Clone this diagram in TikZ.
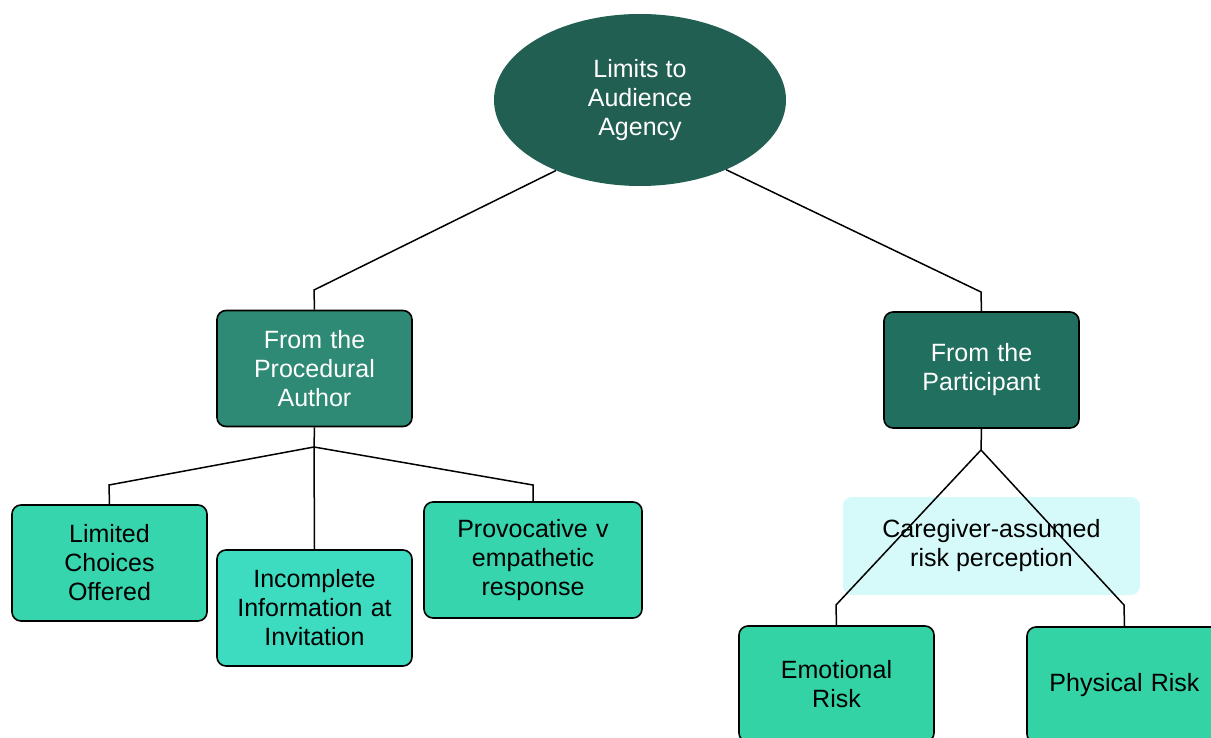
\documentclass[tikz,border=0pt]{standalone}
\usepackage{fontspec}
\setmainfont{Liberation Sans}
\usetikzlibrary{shapes.geometric}
\definecolor{rootgreen}{HTML}{225F53}
\definecolor{authgreen}{HTML}{2E8A74}
\definecolor{partgreen}{HTML}{21705F}
\definecolor{leafgreen}{HTML}{36D5AE}
\definecolor{leafaqua}{HTML}{3DDCC0}
\definecolor{riskgreen}{HTML}{33D3A6}
\definecolor{notecyan}{HTML}{D6F9F9}
\begin{document}
\begin{tikzpicture}[x=1pt,y=-1pt,
  every node/.style={font=\fontsize{25}{29}\selectfont, align=center, inner sep=0pt},
  box/.style={draw=black, line width=1.6pt, rounded corners=9pt,
    minimum width=195pt, minimum height=116pt, text width=180pt},
  darkbox/.style={box, text=white},
  lightbox/.style={box, text=black},
  link/.style={draw=black, line width=1.5pt}
]
\useasboundingbox (0,0) rectangle (1211,738);

% root
\node[ellipse, fill=rootgreen, text=white, minimum width=292pt, minimum height=172pt] (root) at (640,100) {Limits to\\Audience\\Agency};

% second level
\node[darkbox, fill=authgreen] (auth) at (314.5,368.5) {From the\\Procedural\\Author};
\node[darkbox, fill=partgreen] (part) at (981.5,370) {From the\\Participant};

% leaves under the procedural author
\node[lightbox, fill=leafgreen] (lim) at (109.5,563) {Limited\\Choices\\Offered};
\node[lightbox, fill=leafaqua] (inc) at (314.5,608) {Incomplete\\Information at\\Invitation};
\node[lightbox, fill=leafgreen, minimum width=218pt] (prov) at (533,560) {Provocative v\\empathetic\\response};

% note behind the risk branches
\node[fill=notecyan, rounded corners=9pt, minimum width=297pt, minimum height=98pt] (note) at (991.5,546) {};

% leaves under the participant
\node[lightbox, fill=riskgreen] (emo) at (836.5,684) {Emotional\\Risk};
\node[lightbox, fill=riskgreen] (phys) at (1124.5,685) {Physical Risk};

% bend points
\coordinate (bl) at (314,290);
\coordinate (br) at (981,292);
\coordinate (ja) at (314,447);
\coordinate (la) at (109,485);
\coordinate (ra) at (533,485);
\coordinate (jp) at (981,450);
\coordinate (le) at (836,605);
\coordinate (rp) at (1124,605);

% connectors
\draw[link] (root.220) -- (bl) -- (auth.north);
\draw[link] (root.321) -- (br) -- (part.north);
\draw[link] (auth.south) -- (ja) -- (inc.north);
\draw[link] (ja) -- (la) -- (lim.north);
\draw[link] (ja) -- (ra) -- (prov.north);
\draw[link] (part.south) -- (jp);
\draw[link] (jp) -- (le) -- (emo.north);
\draw[link] (jp) -- (rp) -- (phys.north);

% note text above the lines
\node[text=black] (notetext) at (note.center) {Caregiver-assumed\\risk perception};
\end{tikzpicture}
\end{document}
